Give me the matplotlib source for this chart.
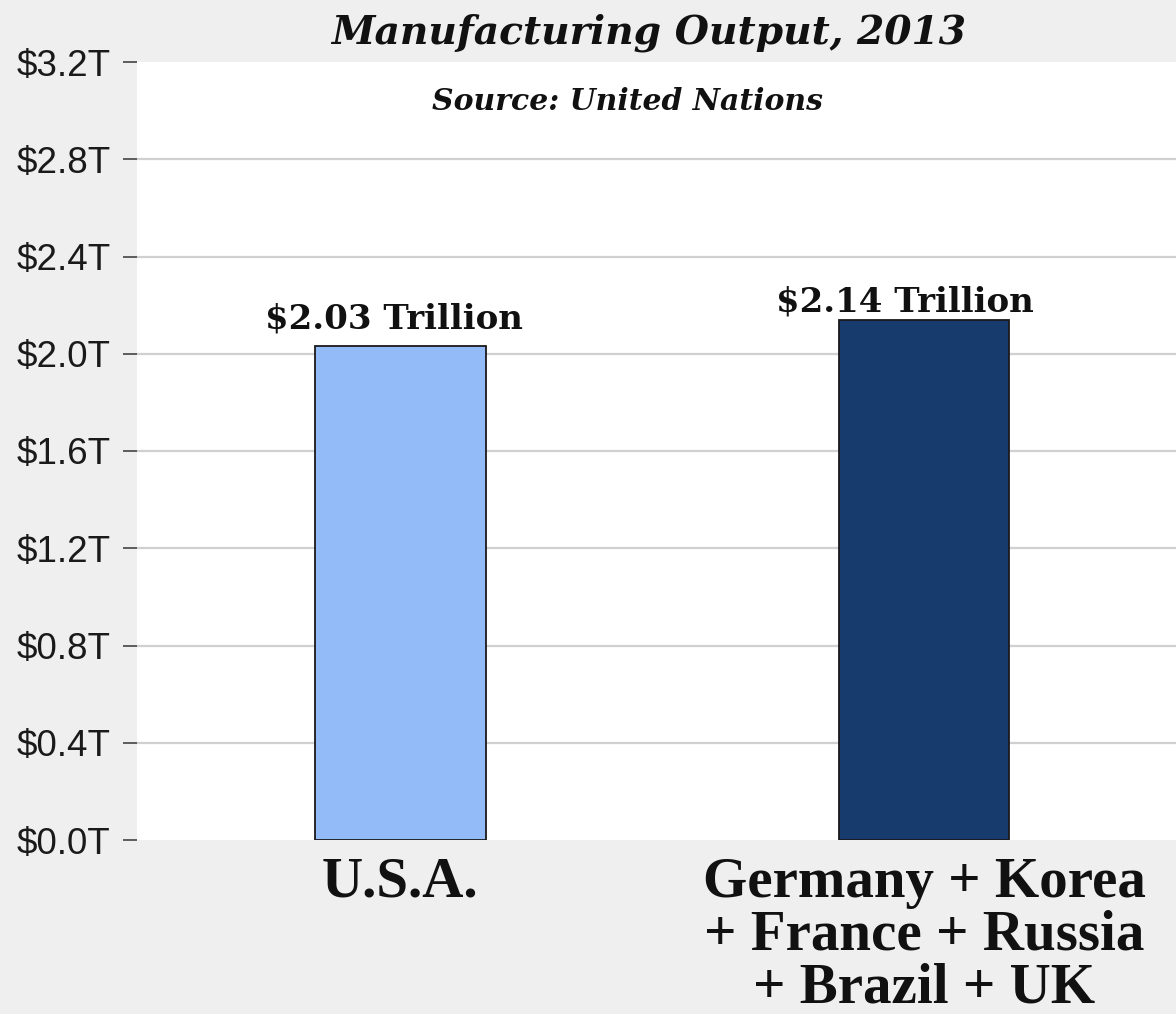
import matplotlib
matplotlib.use("Agg")
import matplotlib.pyplot as plt
import numpy as np

# Manufacturing output in 2013, trillions of US dollars
categories = ["U.S.A.", "Germany + Korea\n+ France + Russia\n+ Brazil + UK"]
values = [2.03, 2.14]
value_labels = ["$2.03 Trillion", "$2.14 Trillion"]
bar_colors = ["#93bbf7", "#173b6c"]
y_ticks = [0.0, 0.4, 0.8, 1.2, 1.6, 2.0, 2.4, 2.8, 3.2]
y_tick_labels = ["$%.1fT" % v for v in y_ticks]

fig = plt.figure(figsize=(11.76, 10.14), dpi=100, facecolor="#efefef")
ax = fig.add_axes([137 / 1176, 1 - 840 / 1014, 1 - 137 / 1176, (840 - 62) / 1014])
ax.set_facecolor("white")

x = np.arange(len(categories))
ax.bar(x, values, width=0.325, color=bar_colors, edgecolor="#1a1a1a",
       linewidth=1.3, zorder=3)

ax.set_xlim(-0.503, 1.481)
ax.set_ylim(0, 3.2)

# horizontal gridlines behind the bars
ax.set_yticks(y_ticks)
ax.set_yticklabels(y_tick_labels, family="Liberation Sans", fontsize=26.5, color="#1a1a1a")
ax.yaxis.grid(True, color="#d0d0d0", linewidth=1.6, zorder=0)
ax.tick_params(axis="y", length=10, width=1.2, color="#444444", pad=9)
# no rule at the bottom and top edges of the plot area
gl = ax.yaxis.get_gridlines()
gl[0].set_visible(False)
gl[-1].set_visible(False)

ax.set_xticks(x)
ax.set_xticklabels(categories, family="Liberation Serif", fontweight="bold",
                   fontsize=41, linespacing=1.02, color="#111111")
ax.tick_params(axis="x", length=0, pad=12)

for s in ax.spines.values():
    s.set_visible(False)

# value annotations above each bar
offsets = [(-5, 8), (-14, 1)]
for xi, v, lab, off in zip(x, values, value_labels, offsets):
    ax.annotate(lab, (xi, v), xytext=off, textcoords="offset points",
                ha="center", va="bottom", family="DejaVu Serif",
                fontweight="bold", fontsize=24.5, color="#111111", zorder=4)

fig.text(649 / 1176, 1 - 44 / 1014, "Manufacturing Output, 2013",
         ha="center", va="baseline", family="DejaVu Serif", fontweight="bold",
         style="italic", fontsize=28.3, color="#111111")
fig.text(628 / 1176, 1 - 110 / 1014, "Source: United Nations",
         ha="center", va="baseline", family="DejaVu Serif", fontweight="bold",
         style="italic", fontsize=21.5, color="#111111")

fig.savefig("out.png", dpi=100, facecolor=fig.get_facecolor())
